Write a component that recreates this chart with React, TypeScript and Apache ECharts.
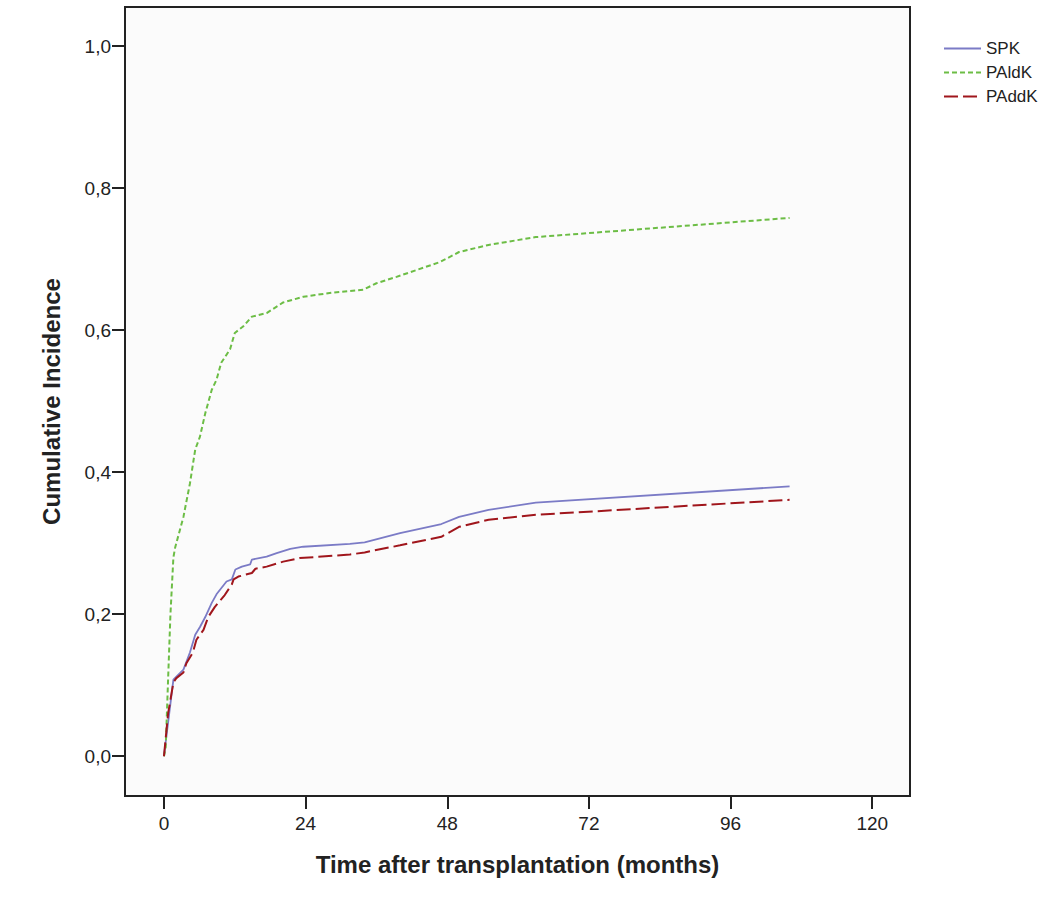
import React, { useEffect, useRef } from "react";
import * as echarts from "echarts";

const xTicks = [0, 24, 48, 72, 96, 120];
const yTicks = [0, 0.2, 0.4, 0.6, 0.8, 1.0];

const spkMonths = [0, 1.6, 3.3, 4.4, 5.3, 6.1, 7, 8.1, 8.9, 10.6, 11.5, 12.1, 13.2, 14.6, 14.9, 17.4, 19.1, 21.4, 23.6, 31.5, 34, 40, 47, 50, 55, 63, 106];
const spkValues = [0, 0.108, 0.122, 0.146, 0.171, 0.182, 0.196, 0.216, 0.228, 0.246, 0.249, 0.263, 0.267, 0.27, 0.277, 0.281, 0.286, 0.292, 0.295, 0.299, 0.301, 0.314, 0.327, 0.337, 0.347, 0.357, 0.38];

const paldkMonths = [0, 0.3, 0.7, 1.1, 1.6, 1.9, 3.3, 4.4, 5.3, 6.1, 7, 8.1, 8.9, 9.7, 11.2, 12, 13.4, 14.9, 17.4, 20.2, 23.6, 28.7, 33.8, 36, 39.4, 46.8, 50, 55, 63, 106];
const paldkValues = [0, 0.013, 0.108, 0.2, 0.28, 0.294, 0.337, 0.384, 0.432, 0.45, 0.483, 0.516, 0.53, 0.554, 0.573, 0.596, 0.605, 0.619, 0.624, 0.639, 0.647, 0.653, 0.657, 0.666, 0.675, 0.696, 0.71, 0.72, 0.731, 0.758];

const paddkMonths = [0, 0.7, 1.6, 2.1, 3.3, 3.8, 4.9, 5.5, 6.7, 7.5, 8.6, 10.3, 11.5, 11.8, 12.6, 14.9, 15.5, 17.4, 20.2, 23, 31.5, 34, 40, 47, 50, 55, 63, 106];
const paddkValues = [0, 0.06, 0.104, 0.11, 0.118, 0.131, 0.146, 0.164, 0.178, 0.196, 0.21, 0.227, 0.242, 0.249, 0.253, 0.258, 0.264, 0.267, 0.274, 0.279, 0.284, 0.287, 0.297, 0.309, 0.323, 0.333, 0.34, 0.361];

const seriesNames = ["SPK", "PAldK", "PAddK"];

const zip = (a: number[], b: number[]) => a.map((x, i) => [x, b[i]]);

export default function App() {
  const ref = useRef<HTMLDivElement>(null);
  useEffect(() => {
    if (!ref.current) return;
    const chart = echarts.init(ref.current, null, { renderer: "svg" });
    const font = "Arial, 'Liberation Sans', sans-serif";
    chart.setOption({
      animation: false,
      backgroundColor: "#ffffff",
      textStyle: { fontFamily: font },
      grid: {
        left: 125,
        right: 148,
        top: 7,
        bottom: 104,
        show: true,
        borderColor: "#222",
        borderWidth: 2,
        backgroundColor: "#fbfbfb",
      },
      legend: {
        left: 943,
        top: 40,
        padding: 0,
        orient: "vertical",
        itemWidth: 37,
        itemHeight: 14,
        itemGap: 7,
        itemStyle: { opacity: 0 },
        textStyle: { fontSize: 17, color: "#222", fontFamily: font },
        data: seriesNames,
      },
      xAxis: {
        type: "value",
        min: -6.6,
        max: 126.4,
        name: "Time after transplantation (months)",
        nameLocation: "middle",
        nameGap: 56,
        nameTextStyle: { fontSize: 24, fontWeight: "bold", color: "#222", fontFamily: font },
        axisLine: { show: false, onZero: false },
        splitLine: { show: false },
        axisTick: {
          show: true,
          length: 13,
          lineStyle: { color: "#222", width: 2 },
          customValues: xTicks,
        },
        axisLabel: {
          fontSize: 19,
          color: "#222",
          margin: 18,
          customValues: xTicks,
          formatter: (v: number) => String(v),
        },
      },
      yAxis: {
        type: "value",
        min: -0.056,
        max: 1.055,
        name: "Cumulative Incidence",
        nameLocation: "middle",
        nameGap: 62,
        nameTextStyle: { fontSize: 24, fontWeight: "bold", color: "#222", fontFamily: font },
        axisLine: { show: false, onZero: false },
        splitLine: { show: false },
        axisTick: {
          show: true,
          length: 13,
          lineStyle: { color: "#222", width: 2 },
          customValues: yTicks,
        },
        axisLabel: {
          fontSize: 19,
          color: "#222",
          margin: 14,
          customValues: yTicks,
          formatter: (v: number) => v.toFixed(1).replace(".", ","),
        },
      },
      series: [
        {
          name: seriesNames[0],
          type: "line",
          symbol: "none",
          data: zip(spkMonths, spkValues),
          lineStyle: { color: "#7b7bc6", width: 1.8, type: "solid" },
          itemStyle: { color: "#7b7bc6" },
        },
        {
          name: seriesNames[1],
          type: "line",
          symbol: "none",
          data: zip(paldkMonths, paldkValues),
          lineStyle: { color: "#6cbd45", width: 2, type: [5, 3] },
          itemStyle: { color: "#6cbd45" },
        },
        {
          name: seriesNames[2],
          type: "line",
          symbol: "none",
          data: zip(paddkMonths, paddkValues),
          lineStyle: { color: "#a0161c", width: 2, type: [14, 5] },
          itemStyle: { color: "#a0161c" },
        },
      ],
    });
    return () => chart.dispose();
  }, []);
  return <div ref={ref} style={{ width: 1058, height: 900, position: "absolute", left: 0, top: 0 }} />;
}
